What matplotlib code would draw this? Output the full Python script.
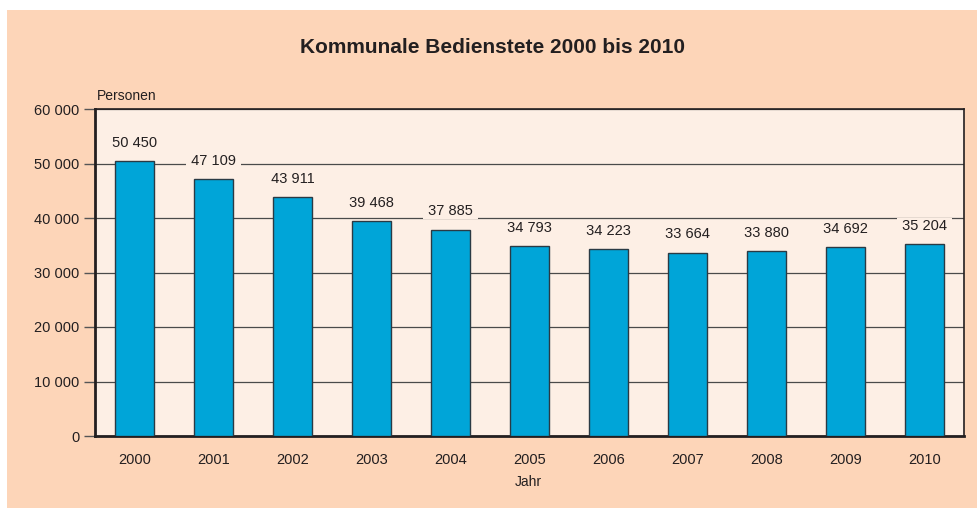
import matplotlib
matplotlib.use('Agg')
import matplotlib.pyplot as plt
from matplotlib.patches import Rectangle

plt.rcParams['font.family'] = ['Liberation Sans', 'DejaVu Sans']

years = ['2000', '2001', '2002', '2003', '2004', '2005', '2006', '2007', '2008', '2009', '2010']
staff = [50450, 47109, 43911, 39468, 37885, 34793, 34223, 33664, 33880, 34692, 35204]
yticks = [0, 10000, 20000, 30000, 40000, 50000, 60000]


def fmt(v):
    return f'{v:,}'.replace(',', ' ')


W, H = 978, 508
fig = plt.figure(figsize=(W / 100, H / 100), dpi=100, facecolor='white')
# peach panel behind everything
fig.patches.append(Rectangle((7 / W, 0), 1, 1 - 10 / H, transform=fig.transFigure,
                             facecolor='#FDD5B8', edgecolor='none', zorder=-10))

ax = fig.add_axes([95 / W, 1 - 436 / H, (964 - 95) / W, (436 - 109) / H])
ax.set_zorder(1)
ax.set_facecolor('#FDEFE5')

x = range(len(years))
ax.bar(x, staff, width=0.5, color='#00A5D8', edgecolor='#2a3a44', linewidth=1, zorder=3)
ax.set_xlim(-0.5, len(years) - 0.5)
ax.set_ylim(0, 60000)
ax.set_yticks(yticks)
ax.set_yticklabels([fmt(v) for v in yticks], fontsize=10.5, color='#231f20')
ax.set_xticks(list(x))
ax.set_xticklabels(years, fontsize=10.5, color='#231f20')
ax.tick_params(axis='x', length=0, pad=12)
ax.tick_params(axis='y', length=8, width=1, color='#555555', pad=3)
ax.grid(axis='y', color='#4a4a4a', linewidth=0.9, zorder=1)
ax.set_axisbelow(True)

for s in ax.spines.values():
    s.set_color('#231f20')
ax.spines['left'].set_linewidth(2)
ax.spines['bottom'].set_linewidth(2)
ax.spines['top'].set_linewidth(1.2)
ax.spines['right'].set_linewidth(1.2)

# value labels, box hides the gridline behind them (spaces widen it sideways only)
for i, v in enumerate(staff):
    ax.annotate(' ' + fmt(v) + ' ', (i, v), xytext=(0, 8), textcoords='offset points',
                ha='center', va='bottom', fontsize=10.5, color='#231f20', zorder=4,
                bbox=dict(boxstyle='square,pad=0.05', facecolor='#FDEFE5', edgecolor='none'))

fig.text(0.5 + 7 / W / 2, 1 - 47 / H, 'Kommunale Bedienstete 2000 bis 2010', ha='center', va='center',
         fontsize=15, fontweight='bold', color='#231f20')
fig.text(97 / W, 1 - 96 / H, 'Personen', ha='left', va='center', fontsize=10, color='#231f20')
fig.text(528 / W, 1 - 482 / H, 'Jahr', ha='center', va='center', fontsize=10, color='#231f20')

fig.savefig('out.png', dpi=100, facecolor=fig.get_facecolor())
